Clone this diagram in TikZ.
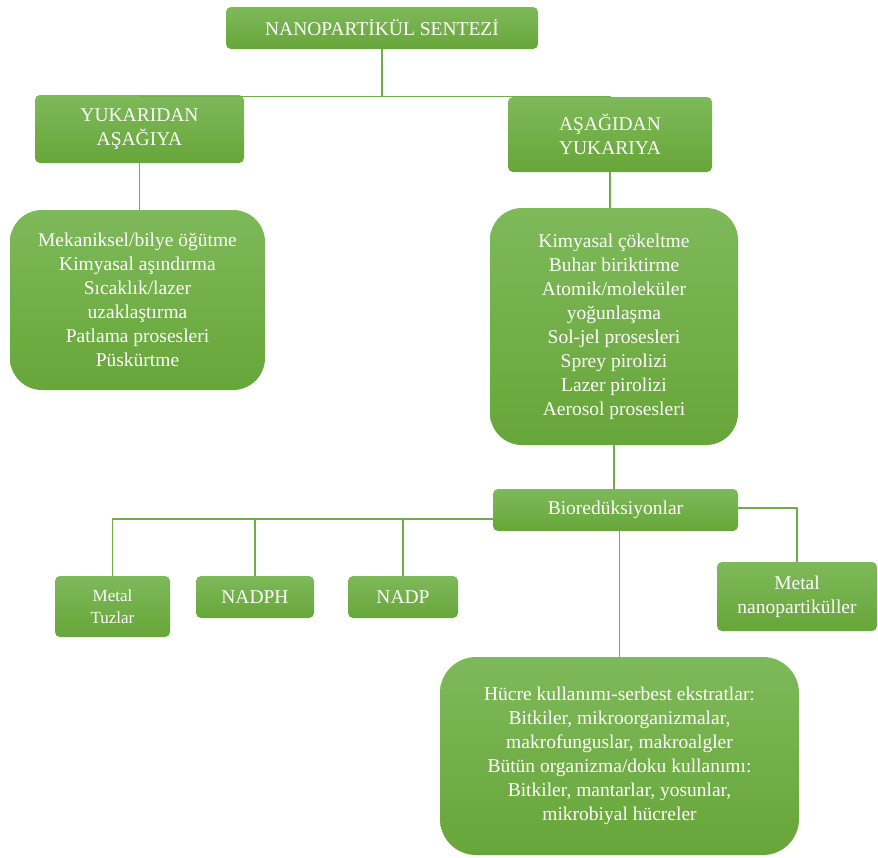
\documentclass[tikz,border=0pt]{standalone}
\usepackage{fontspec}
\setmainfont{Liberation Serif}
\usetikzlibrary{positioning}
\definecolor{boxtop}{RGB}{126,185,90}
\definecolor{boxbot}{RGB}{103,166,57}
\definecolor{linegreen}{RGB}{112,173,71}
\tikzset{
  gbox/.style={rectangle, rounded corners=5pt, top color=boxtop, bottom color=boxbot,
    draw=none, text=white, align=center, inner sep=2pt,
    font=\fontsize{19.5}{24}\selectfont},
  listbox/.style={gbox, rounded corners=32pt},
  link/.style={draw=linegreen, line width=1.3pt}
}
\begin{document}
\begin{tikzpicture}[x=1pt, y=-1pt, line join=round]
  \path[use as bounding box, fill=white] (0,0) rectangle (878,857);

  \node[gbox, minimum width=312pt, minimum height=42pt] (synth) at (382,28) {NANOPARTİKÜL SENTEZİ};
  \node[gbox, minimum width=209pt, minimum height=68pt] (topdown) at (139.5,129) {YUKARIDAN\\AŞAĞIYA};
  \node[gbox, minimum width=204pt, minimum height=75pt] (bottomup) at (610,134.5) {AŞAĞIDAN\\YUKARIYA};
  \node[listbox, minimum width=255pt, minimum height=180pt] (toplist) at (137.5,300)
    {Mekaniksel/bilye öğütme\\Kimyasal aşındırma\\Sıcaklık/lazer\\uzaklaştırma\\Patlama prosesleri\\Püskürtme};
  \node[listbox, minimum width=248pt, minimum height=237pt] (botlist) at (614,326.5)
    {Kimyasal çökeltme\\Buhar biriktirme\\Atomik/moleküler\\yoğunlaşma\\Sol-jel prosesleri\\Sprey pirolizi\\Lazer pirolizi\\Aerosol prosesleri};
  \node[gbox, minimum width=245pt, minimum height=42pt] (bio) at (615.5,510) {Bioredüksiyonlar};
  \node[gbox, minimum width=115pt, minimum height=61pt, font=\fontsize{17}{22}\selectfont] (salts) at (112.5,606.5) {Metal\\Tuzlar};
  \node[gbox, minimum width=118pt, minimum height=42pt] (nadph) at (255,597) {NADPH};
  \node[gbox, minimum width=110pt, minimum height=42pt] (nadp) at (403,597) {NADP};
  \node[gbox, minimum width=160pt, minimum height=69pt] (metalnp) at (797,596.5) {Metal\\nanopartiküller};
  \node[listbox, rounded corners=36pt, minimum width=359pt, minimum height=198pt] (extracts) at (619.5,756)
    {Hücre kullanımı-serbest ekstratlar:\\Bitkiler, mikroorganizmalar,\\makrofunguslar, makroalgler\\Bütün organizma/doku kullanımı:\\Bitkiler, mantarlar, yosunlar,\\mikrobiyal hücreler};

  % baglantilar
  \draw[link] (synth.south) -- ++(0,47) coordinate (split);
  \draw[link] (topdown.north) |- (split) -| (bottomup.north);
  \draw[link] (topdown.south) -- (topdown.south |- toplist.north);
  \draw[link] (bottomup.south) -- (bottomup.south |- botlist.north);
  \draw[link] (botlist.south) -- (botlist.south |- bio.north);
  \path ([yshift=-9pt]bio.west) coordinate (bus);
  \draw[link] (bus) -| (salts.north);
  \draw[link] (nadph.north) -- (nadph.north |- bus);
  \draw[link] (nadp.north) -- (nadp.north |- bus);
  \draw[link] ([yshift=2pt]bio.east) -| (metalnp.north);
  \draw[link] (extracts.north) -- (extracts.north |- bio.south);
\end{tikzpicture}
\end{document}
